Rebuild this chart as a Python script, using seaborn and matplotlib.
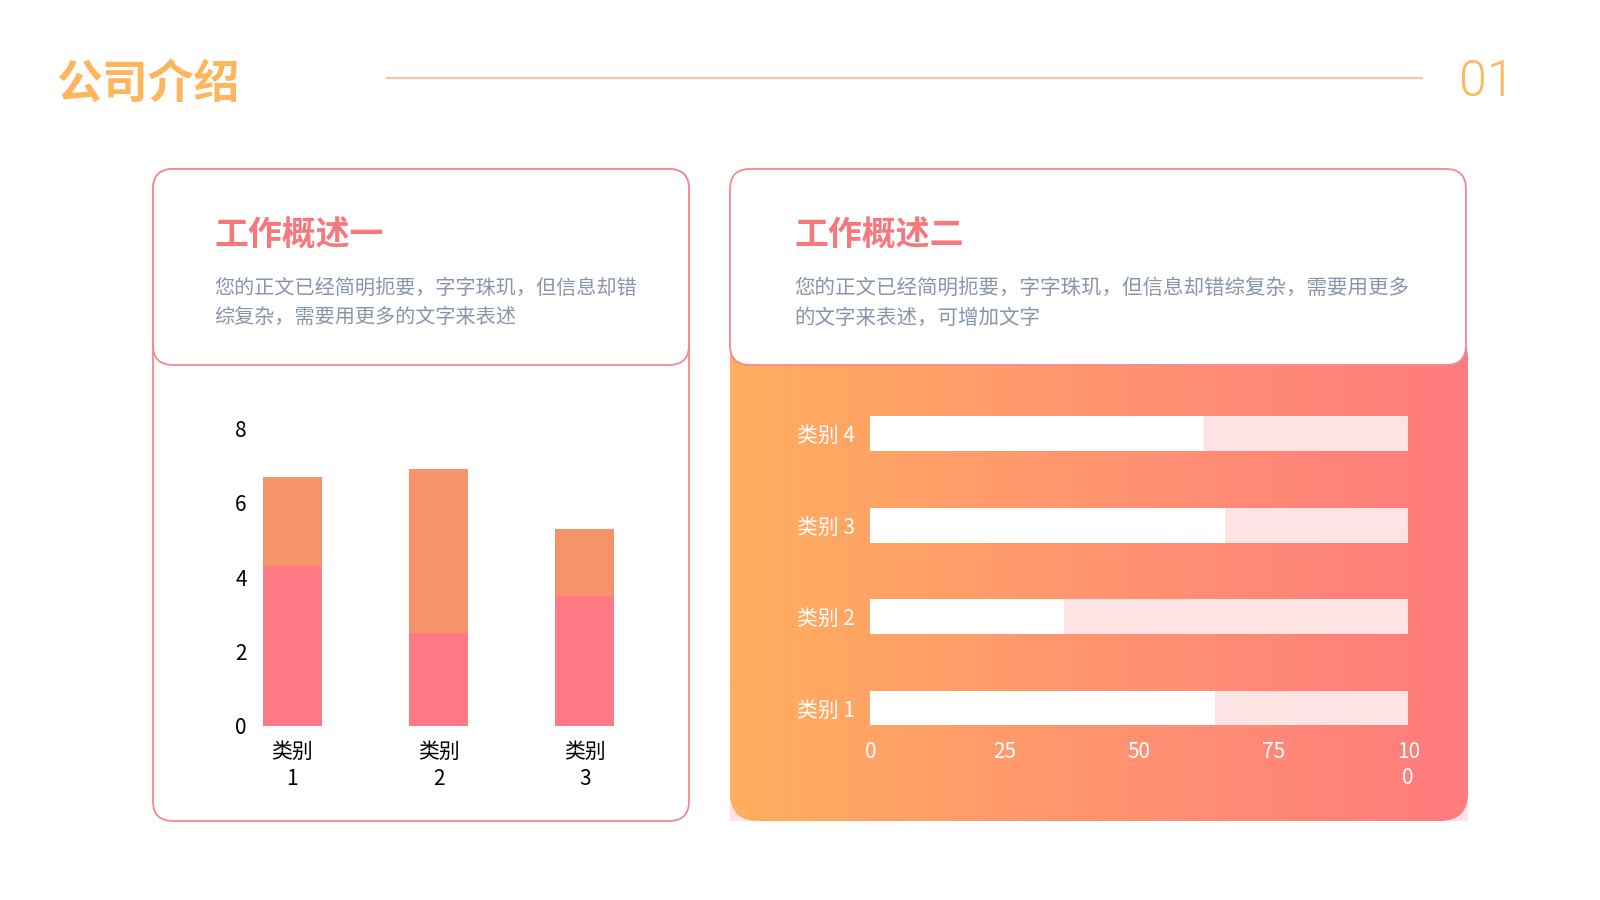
import numpy as np
import pandas as pd
import matplotlib.pyplot as plt
import seaborn as sns
from matplotlib.patches import FancyBboxPatch, Rectangle
from matplotlib.colors import LinearSegmentedColormap

# data
bar_cats = ['类别\n1', '类别\n2', '类别\n3']
series1 = [4.3, 2.5, 3.5]
series2 = [2.4, 4.4, 1.8]
y_ticks = [0, 2, 4, 6, 8]

prog_cats = ['类别 4', '类别 3', '类别 2', '类别 1']
prog_vals = [62, 66, 36, 64]
prog_max = [100, 100, 100, 100]
x_ticks = [0, 25, 50, 75, 100]
x_tick_labels = ['0', '25', '50', '75', '10\n0']

title = '公司介绍'
page_no = '01'
card1_title = '工作概述一'
card1_text = '您的正文已经简明扼要，字字珠玑，但信息却错\n综复杂，需要用更多的文字来表述'
card2_title = '工作概述二'
card2_text = '您的正文已经简明扼要，字字珠玑，但信息却错综复杂，需要用更多\n的文字来表述，可增加文字'

ORANGE = '#FFB55B'
PINK_TITLE = '#F7787C'
BORDER = '#F28A8E'
BODY = '#8795AB'
PINK_BAR = '#FF7A85'
ORANGE_BAR = '#F5936A'
LIGHT_PINK = '#FDE3E4'

sns.set_theme(style='white')
plt.rcParams['font.family'] = ['Noto Sans CJK SC', 'DejaVu Sans']

fig = plt.figure(figsize=(16, 9), dpi=100)
fig.patch.set_facecolor('white')

# background layer in pixel coordinates
bg = fig.add_axes([0, 0, 1, 1])
bg.set_xlim(0, 1600)
bg.set_ylim(900, 0)
bg.axis('off')
bg.set_zorder(0)

bg.text(56, 85, title, ha='left', va='center', fontsize=33, fontweight='bold', color=ORANGE)
bg.plot([386, 1423], [77.5, 77.5], color='#F3C6AC', lw=1.6, solid_capstyle='butt')
bg.text(1487, 82, page_no, ha='center', va='center', fontsize=36, fontweight=300,
        family=['Roboto', 'Noto Sans CJK SC'], color=ORANGE)

# left card
bg.add_patch(FancyBboxPatch((153, 169), 536, 652, boxstyle='round,pad=0,rounding_size=20',
                            fc='white', ec=BORDER, lw=1.3))
bg.add_patch(FancyBboxPatch((153, 169), 536, 196, boxstyle='round,pad=0,rounding_size=20',
                            fc='white', ec=BORDER, lw=1.3))
bg.text(214, 234, card1_title, ha='left', va='center', fontsize=24.4, fontweight='bold', color=PINK_TITLE)
bg.text(214, 303, card1_text, ha='left', va='center', fontsize=14.5, color=BODY, linespacing=1.55)

# right card: light pink base, gradient body, white header
bg.add_patch(Rectangle((730, 360), 738, 461, fc=LIGHT_PINK, ec='none'))
grad_clip = FancyBboxPatch((730, 330), 738, 491, boxstyle='round,pad=0,rounding_size=28',
                           fc='none', ec='none')
bg.add_patch(grad_clip)
cmap = LinearSegmentedColormap.from_list('g', ['#FFAE5E', '#FF9470', '#FF7B7E'])
grad = np.linspace(0, 1, 256).reshape(1, -1)
im = bg.imshow(grad, cmap=cmap, extent=(730, 1468, 821, 330), aspect='auto', zorder=1)
im.set_clip_path(grad_clip)
bg.add_patch(FancyBboxPatch((730, 169), 736, 196, boxstyle='round,pad=0,rounding_size=20',
                            fc='white', ec=BORDER, lw=1.3, zorder=2))
bg.text(794, 234, card2_title, ha='left', va='center', fontsize=24.4, fontweight='bold',
        color=PINK_TITLE, zorder=3)
bg.text(794, 303, card2_text, ha='left', va='center', fontsize=14.75, color=BODY,
        linespacing=1.52, zorder=3)


def px_axes(l, t, r, b):
    return fig.add_axes([l / 1600, 1 - b / 900, (r - l) / 1600, (b - t) / 900])


# stacked column chart
ax1 = px_axes(255, 428.6, 622, 726)
ax1.set_zorder(2)
ax1.patch.set_alpha(0)
totals = [a + b for a, b in zip(series1, series2)]
df1 = pd.DataFrame({'cat': bar_cats, 's1': series1, 'total': totals})
sns.barplot(data=df1, x='cat', y='total', ax=ax1, color=ORANGE_BAR, saturation=1,
            width=0.4, linewidth=0)
sns.barplot(data=df1, x='cat', y='s1', ax=ax1, color=PINK_BAR, saturation=1,
            width=0.4, linewidth=0)
ax1.set_xlim(-0.255, 2.255)
ax1.set_ylim(0, 8)
ax1.set_yticks(y_ticks)
ax1.set_xlabel('')
ax1.set_ylabel('')
for s in ax1.spines.values():
    s.set_visible(False)
ax1.tick_params(axis='y', length=0, pad=6, labelsize=15, labelcolor='black')
ax1.tick_params(axis='x', length=0, pad=11, labelsize=15, labelcolor='black')
for t in ax1.get_xticklabels():
    t.set_linespacing(1.25)

# progress bars
ax2 = px_axes(870.4, 405, 1408.2, 730)
ax2.set_zorder(2)
ax2.patch.set_alpha(0)
df2 = pd.DataFrame({'cat': prog_cats, 'val': prog_vals, 'full': prog_max})
sns.barplot(data=df2, y='cat', x='full', ax=ax2, orient='h', color=LIGHT_PINK, saturation=1,
            width=0.38, linewidth=0)
sns.barplot(data=df2, y='cat', x='val', ax=ax2, orient='h', color='white', saturation=1,
            width=0.38, linewidth=0)
ax2.set_xlim(0, 100)
ax2.set_ylim(3.24, -0.314)
ax2.set_xticks(x_ticks)
ax2.set_xticklabels(x_tick_labels)
ax2.set_xlabel('')
ax2.set_ylabel('')
for s in ax2.spines.values():
    s.set_visible(False)
ax2.tick_params(axis='y', length=0, pad=11, labelsize=15, labelcolor='white')
ax2.tick_params(axis='x', length=0, pad=8, labelsize=15, labelcolor='white')
for t in ax2.get_xticklabels() + ax2.get_yticklabels():
    t.set_fontweight('light')
for t in ax2.get_xticklabels():
    t.set_linespacing(1.25)

fig.savefig('out.png', dpi=100)
